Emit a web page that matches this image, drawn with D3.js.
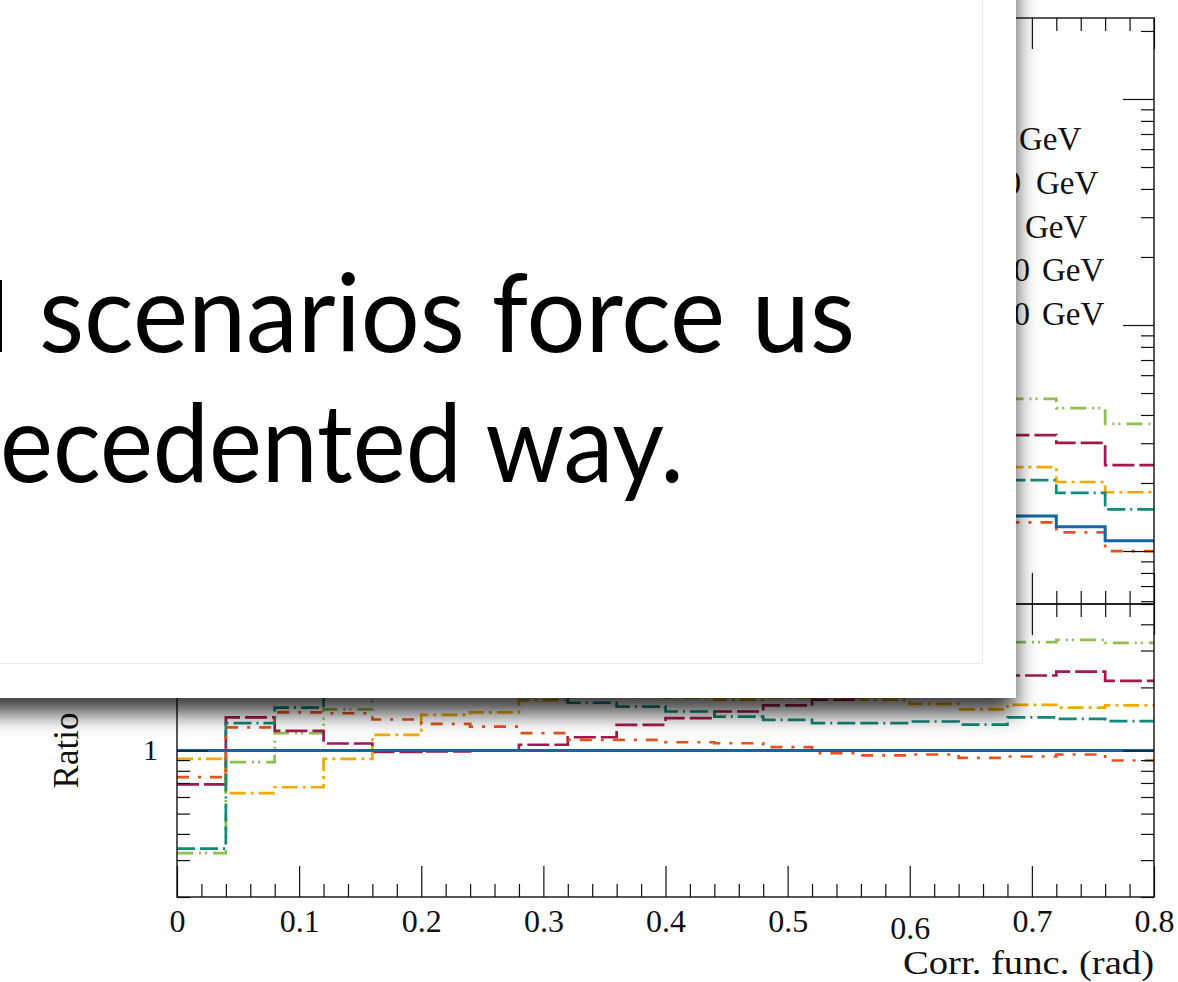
<!DOCTYPE html>
<html>
<head>
<meta charset="utf-8">
<script src="https://cdn.jsdelivr.net/npm/d3@7"></script>
<style>
html, body { margin: 0; padding: 0; background: #fff; overflow: hidden; }
svg { display: block; }
</style>
</head>
<body>
<div id="main"></div>
<script>
"use strict";

// ratio panel: 20 bins of 0.04 rad
var binEdges = [0, 0.04, 0.08, 0.12, 0.16, 0.2, 0.24, 0.28, 0.32, 0.36, 0.4,
                0.44, 0.48, 0.52, 0.56, 0.6, 0.64, 0.68, 0.72, 0.76, 0.8];

var ratioBlue    = [1, 1, 1, 1, 1, 1, 1, 1, 1, 1, 1, 1, 1, 1, 1, 1, 1, 1, 1, 1];
var ratioTeal    = [0.34, 1.35, 1.6, 1.85, 1.9, 1.9, 1.85, 1.8, 1.69, 1.62, 1.535, 1.45, 1.40, 1.35, 1.35, 1.375, 1.33, 1.44, 1.415, 1.38];
var ratioOrange  = [0.913, 0.626, 0.668, 0.913, 1.188, 1.48, 1.52, 1.74, 1.8, 1.8, 1.78, 1.75, 1.78, 1.78, 1.75, 1.67, 1.57, 1.65, 1.60, 1.64];
var ratioMagenta = [0.69, 1.44, 1.24, 1.08, 0.985, 0.99, 1.0, 1.065, 1.157, 1.326, 1.426, 1.535, 1.64, 1.75, 1.85, 1.95, 2.1, 2.28, 2.38, 2.15];
var ratioGreen   = [0.324, 0.88, 1.21, 1.57, 2.0, 2.3, 2.5, 2.7, 2.8, 2.9, 3.0, 3.05, 3.1, 3.15, 3.2, 3.2, 3.25, 3.29, 3.37, 3.26];
var ratioRed     = [0.746, 1.29, 1.52, 1.506, 1.406, 1.34, 1.30, 1.21, 1.125, 1.125, 1.095, 1.083, 1.037, 0.971, 0.947, 0.957, 0.923, 0.936, 0.957, 0.896];

// main panel: only the last bins are not covered by the slide
var upperEdges   = [0.68, 0.72, 0.76, 0.8];
var upperBlue    = [0.143, 0.128, 0.111];
var upperTeal    = [0.206, 0.181, 0.153];
var upperOrange  = [0.235, 0.202, 0.182];
var upperMagenta = [0.326, 0.301, 0.240];
var upperGreen   = [0.471, 0.429, 0.365];
var upperRed     = [0.134, 0.121, 0.100];

var xTickValues = [0, 0.1, 0.2, 0.3, 0.4, 0.5, 0.6, 0.7, 0.8];
var xTickLabels = ["0", "0.1", "0.2", "0.3", "0.4", "0.5", "0.6", "0.7", "0.8"];
var legendValues = ["30", "100", "50", "200", "500"];
var legendUnit = "GeV";
var slideLines = ["scenarios force us", "ecedented way."];

var W = 1178, H = 982;
var L = 177, R = 1154, T = 18, MID = 604, B = 897;

var svg = d3.select('#main')
    .append("svg")
    .attr("width", W)
    .attr("height", H)
    .style("font-family", "'Liberation Serif', 'DejaVu Serif', serif");

var x = d3.scaleLinear().domain([0, 0.8]).range([L, R]);
var yTop = d3.scaleLog().domain([0.0583, 22.82]).range([MID, T]);
var yRat = d3.scaleLog().domain([0.2, 5]).range([B, MID]);

var series = [
    {color: "#1565a6", dash: null,              w: 3.0, ratio: ratioBlue,    upper: upperBlue},
    {color: "#e4531d", dash: "12,9,3,9",        w: 2.7, ratio: ratioRed,     upper: upperRed},
    {color: "#13897a", dash: "18,5,18,5,2,5",   w: 2.7, ratio: ratioTeal,    upper: upperTeal},
    {color: "#f5a900", dash: "16,5,3,5",        w: 2.7, ratio: ratioOrange,  upper: upperOrange},
    {color: "#a3194e", dash: "22,5",            w: 2.7, ratio: ratioMagenta, upper: upperMagenta},
    {color: "#8fc04f", dash: "16,6,2,4,2,6",    w: 2.7, ratio: ratioGreen,   upper: upperGreen}
];

function steps(edges, vals){
    var pts = vals.map(function(v, i){ return [edges[i], v]; });
    pts.push([edges[vals.length], vals[vals.length - 1]]);
    return pts;
}

var lineTop = d3.line().x(function(d){ return x(d[0]); }).y(function(d){ return yTop(d[1]); }).curve(d3.curveStepAfter);
var lineRat = d3.line().x(function(d){ return x(d[0]); }).y(function(d){ return yRat(d[1]); }).curve(d3.curveStepAfter);

var plot = svg.append("g");

// curves, drawn back to front (reference last so it sits on top)
series.slice().reverse().forEach(function(s){
    plot.append("path")
        .attr("d", lineRat(steps(binEdges, s.ratio)))
        .attr("fill", "none").attr("stroke", s.color).attr("stroke-width", s.w)
        .attr("stroke-dasharray", s.dash);
    plot.append("path")
        .attr("d", lineTop(steps(upperEdges, s.upper)))
        .attr("fill", "none").attr("stroke", s.color).attr("stroke-width", s.w)
        .attr("stroke-dasharray", s.dash);
});

// ticks
var xMinor = d3.range(0, 41).map(function(i){ return i * 0.02; }).filter(function(v){ return Math.round(v * 100) % 10 !== 0; });
var MAJ = 31, MIN = 13;

function tickAxis(axis, tx, ty){
    var g = plot.append("g").attr("transform", "translate(" + tx + "," + ty + ")").call(axis);
    g.select(".domain").remove();
    g.selectAll("line").attr("stroke", "#111").attr("stroke-width", 1.2);
    return g;
}
function isDecade(v){ return Math.abs(Math.log10(v) - Math.round(Math.log10(v))) < 1e-6; }

[[T, "down"], [MID, "up"], [MID, "down"], [B, "up"]].forEach(function(p){
    var mk = p[1] === "down" ? d3.axisBottom : d3.axisTop;
    tickAxis(mk(x).tickValues(xMinor).tickSize(MIN).tickFormat(""), 0, p[0]);
    tickAxis(mk(x).tickValues(xTickValues).tickSize(MAJ).tickFormat(""), 0, p[0]);
});

[yTop, yRat].forEach(function(sc){
    var all = sc.ticks();
    var minor = all.filter(function(v){ return !isDecade(v); });
    var major = all.filter(isDecade);
    tickAxis(d3.axisRight(sc).tickValues(minor).tickSize(MIN).tickFormat(""), L, 0);
    tickAxis(d3.axisRight(sc).tickValues(major).tickSize(MAJ).tickFormat(""), L, 0);
    tickAxis(d3.axisLeft(sc).tickValues(minor).tickSize(MIN).tickFormat(""), R, 0);
    tickAxis(d3.axisLeft(sc).tickValues(major).tickSize(MAJ).tickFormat(""), R, 0);
});

// frames
plot.append("rect").attr("x", L).attr("y", T).attr("width", R - L).attr("height", MID - T)
    .attr("fill", "none").attr("stroke", "#111").attr("stroke-width", 1.4);
plot.append("rect").attr("x", L).attr("y", MID).attr("width", R - L).attr("height", B - MID)
    .attr("fill", "none").attr("stroke", "#111").attr("stroke-width", 1.4);

// x tick labels
var xl = plot.append("g").attr("transform", "translate(0," + B + ")")
    .call(d3.axisBottom(x).tickValues(xTickValues).tickSize(0)
        .tickFormat(function(d, i){ return xTickLabels[i]; }));
xl.select(".domain").remove();
xl.selectAll("text")
    .attr("y", function(d){ return d === 0.6 ? 42 : 35; })
    .attr("dy", 0)
    .attr("fill", "#111")
    .style("font-size", "32px")
    .style("font-family", "'Liberation Serif', serif");

plot.append("text").attr("x", R).attr("y", 974).attr("text-anchor", "end")
    .attr("textLength", 251).attr("lengthAdjust", "spacingAndGlyphs")
    .style("font-size", "34px").attr("fill", "#111").text("Corr. func. (rad)");

plot.append("text").attr("x", 158).attr("y", yRat(1) + 9).attr("text-anchor", "end")
    .style("font-size", "30px").attr("fill", "#111").text("1");

plot.append("text").attr("transform", "translate(78," + yRat(1) + ") rotate(-90)")
    .attr("text-anchor", "middle")
    .style("font-size", "35px").attr("fill", "#111").text("Ratio");

// legend labels (left part hidden by the slide)
var legendNumEnd = [1009, 1021, 1013, 1030, 1030];
var legendUnitX = [1019, 1036, 1025, 1042, 1042];
legendValues.forEach(function(v, i){
    var t = plot.append("text").attr("y", 150 + i * 43.8)
        .style("font-size", "33px").attr("fill", "#111");
    t.append("tspan").attr("x", legendNumEnd[i]).attr("text-anchor", "end").text(v);
    t.append("tspan").attr("x", legendUnitX[i]).attr("text-anchor", "start").text(legendUnit);
});

// slide laid over the plot
var defs = svg.append("defs");
var f = defs.append("filter").attr("id", "shadow")
    .attr("x", "-10%").attr("y", "-10%").attr("width", "130%").attr("height", "130%");
f.append("feDropShadow").attr("dx", -1).attr("dy", 15).attr("stdDeviation", 11)
    .attr("flood-color", "#000").attr("flood-opacity", 0.78);

var slide = svg.append("g");
slide.append("rect").attr("x", -80).attr("y", -80).attr("width", 1096).attr("height", 778)
    .attr("fill", "#fff").attr("filter", "url(#shadow)");
slide.append("path").attr("d", "M0,663.5H982.5V0")
    .attr("fill", "none").attr("stroke", "#ececec").attr("stroke-width", 1);

// stem of the letter cut by the left edge of the view
slide.append("rect").attr("x", 0).attr("y", 280).attr("width", 2).attr("height", 72).attr("fill", "#000");
slide.append("text").attr("x", 39).attr("y", 352)
    .attr("textLength", 816).attr("lengthAdjust", "spacingAndGlyphs")
    .style("font-family", "Lato, 'Open Sans', sans-serif").style("font-size", "108px")
    .attr("fill", "#000").text(slideLines[0]);
slide.append("text").attr("x", 0).attr("y", 482)
    .attr("textLength", 684).attr("lengthAdjust", "spacingAndGlyphs")
    .style("font-family", "Lato, 'Open Sans', sans-serif").style("font-size", "108px")
    .attr("fill", "#000").text(slideLines[1]);
</script>
</body>
</html>
